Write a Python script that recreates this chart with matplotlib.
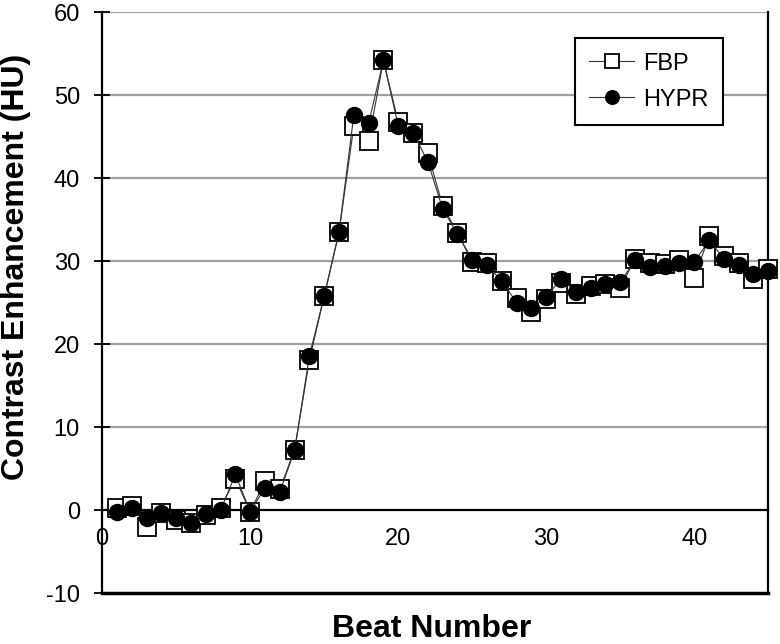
import numpy as np
import matplotlib.pyplot as plt

plt.rcParams['font.family'] = ['Liberation Sans', 'DejaVu Sans']
plt.rcParams['axes.unicode_minus'] = False

beats = list(range(1, 46))

fbp = [0.3, 0.5, -2.0, -0.3, -1.2, -1.6, -0.6, 0.3, 3.8, -0.2,
       3.5, 2.5, 7.3, 18.1, 25.8, 33.5, 46.3, 44.5, 54.2, 46.8,
       45.5, 43.0, 36.7, 33.4, 29.9, 29.8, 27.6, 25.6, 23.9, 25.5,
       27.4, 26.0, 27.0, 27.2, 26.8, 30.3, 29.8, 29.7, 30.2, 28.0,
       33.0, 30.6, 29.8, 27.9, 29.0]

hypr = [-0.2, 0.3, -1.0, -0.3, -1.0, -1.5, -0.5, 0.0, 4.3, -0.2,
        2.7, 2.2, 7.2, 18.6, 25.8, 33.5, 47.6, 46.6, 54.2, 46.3,
        45.5, 42.0, 36.3, 33.3, 30.2, 29.5, 27.6, 25.0, 24.3, 25.7,
        27.9, 26.3, 26.8, 27.3, 27.5, 30.1, 29.3, 29.4, 29.8, 29.9,
        32.5, 30.3, 29.5, 28.4, 28.8]

xticks = [0, 10, 20, 30, 40]
yticks = [-10, 0, 10, 20, 30, 40, 50, 60]

fig = plt.figure(figsize=(7.8, 6.44), dpi=100)
ax = fig.add_axes([0.131, 0.079, 0.854, 0.902])

# gray gridlines
for y in yticks:
    if y not in (0, -10):
        ax.axhline(y, color='#a0a0a0', lw=1.6, zorder=0)

ax.plot(beats, fbp, color='#333333', lw=0.8, marker='s', ms=12.5,
        mfc='white', mec='black', mew=1.3, label='FBP', zorder=3, clip_on=False)
ax.plot(beats, hypr, color='#333333', lw=0.8, marker='o', ms=11.5,
        mfc='black', mec='black', label='HYPR', zorder=4, clip_on=False)

ax.set_xlim(0, 45)
ax.set_ylim(-10, 60)

# x axis crosses at y = 0, box line at the bottom
ax.spines['bottom'].set_position(('data', 0))
ax.spines['bottom'].set_linewidth(1.6)
ax.axhline(-10, color='black', lw=2.5, clip_on=False, zorder=5)
ax.spines['top'].set_visible(False)
ax.spines['left'].set_linewidth(1.6)
ax.spines['right'].set_linewidth(1.6)

ax.set_xticks(xticks)
ax.set_yticks(yticks)
ax.tick_params(axis='x', length=0, labelsize=17, pad=13)
ax.tick_params(axis='y', direction='inout', length=12, width=1.3, labelsize=17, pad=10)

fig.text(0.554, 0.0, 'Beat Number', ha='center', va='bottom',
         fontsize=23, fontweight='bold')
fig.text(0.021, 0.585, 'Contrast Enhancement (HU)', rotation=90, ha='center',
         va='center', fontsize=23, fontweight='bold')

leg = ax.legend(loc='upper right', bbox_to_anchor=(0.932, 0.955), borderaxespad=0,
                fontsize=17, fancybox=False, framealpha=1, edgecolor='black',
                handlelength=1.9, handletextpad=0.4, borderpad=0.6,
                labelspacing=0.6, markerscale=0.85)
leg.get_frame().set_linewidth(1.5)

fig.savefig('out.png', dpi=100)
